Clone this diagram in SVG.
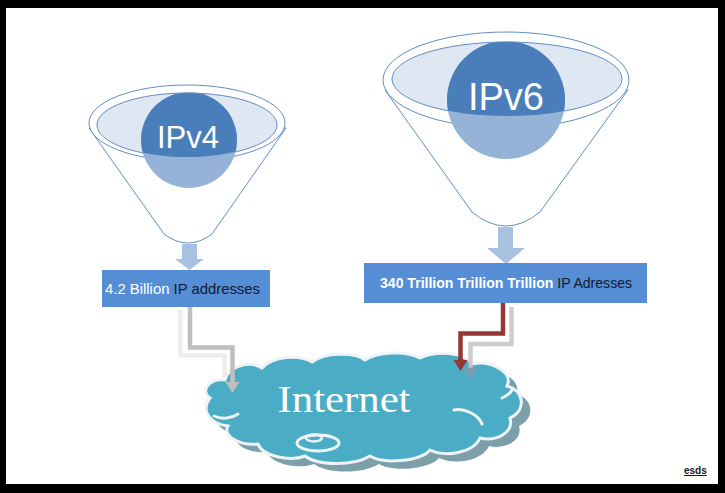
<svg xmlns="http://www.w3.org/2000/svg" width="725" height="493" viewBox="0 0 725 493">
<style>
.rim{fill:#fff;stroke:#4f81bd;stroke-width:0.9}
.inner{fill:#dfe7f3;stroke:#4f81bd;stroke-width:0.9}
.lt{fill:#95b3d7}
.dk{fill:#4a7ebb}
.blk{fill:#a9c1e0}
.box{fill:#558ed5}
.lbl{font-family:"Liberation Sans",Arial,sans-serif;font-size:14.5px;fill:#fff}
.dark{fill:#111a2b}
.big{font-family:"Liberation Sans",Arial,sans-serif;fill:#fff;text-anchor:middle}
.conn{fill:none;stroke-width:4.5;stroke-linejoin:miter}
.arc{fill:none;stroke:#eef3f5;stroke-width:3;stroke-linecap:round}
</style>
<defs>
<clipPath id="c4"><ellipse cx="187" cy="125" rx="90" ry="32"/></clipPath>
<clipPath id="c6"><ellipse cx="507" cy="79" rx="115" ry="37"/></clipPath>
<marker id="mg" viewBox="0 0 11 14" refX="0" refY="7" markerWidth="11" markerHeight="14" markerUnits="userSpaceOnUse" orient="auto"><path d="M0,0 L11,7 L0,14 Z" fill="#bfbfbf"/></marker>
<marker id="mg2" viewBox="0 0 11 14" refX="0" refY="7" markerWidth="11" markerHeight="14" markerUnits="userSpaceOnUse" orient="auto"><path d="M0,0 L11,7 L0,14 Z" fill="#8a9aa8" fill-opacity="0.8"/></marker>
<marker id="mr" viewBox="0 0 11 14" refX="0" refY="7" markerWidth="11" markerHeight="14" markerUnits="userSpaceOnUse" orient="auto"><path d="M0,0 L11,7 L0,14 Z" fill="#953735"/></marker>
<path id="cloud" d="M210,398 C200,392 208,378 225,380 C228,366 250,360 262,368 C272,356 300,354 312,362 C325,352 355,352 365,360 C378,352 405,350 420,358 C435,350 465,352 472,364 C490,360 514,372 507,386 C524,390 527,410 510,418 C514,432 497,442 480,438 C474,452 447,458 430,450 C420,462 382,464 370,456 C354,466 318,466 305,456 C290,462 262,456 258,444 C240,446 222,436 228,426 C210,424 200,410 210,398 Z"/>
</defs>
<rect x="0" y="0" width="725" height="493" fill="#000"/>
<rect x="6" y="8" width="712" height="476" fill="#fff"/>

<g id="ipv4-funnel">
<path class="rim" d="M89,128 L164,234 Q188,252 212,234 L286,128 Z"/>
<ellipse class="rim" cx="187" cy="123" rx="98" ry="38"/>
<ellipse class="inner" cx="187" cy="125" rx="90" ry="32"/>
<circle class="lt" cx="189" cy="140" r="48"/>
<circle class="dk" cx="189" cy="140" r="48" clip-path="url(#c4)"/>
<text class="big" x="188" y="148" font-size="31">IPv4</text>
<path class="blk" d="M182,244 H197 V259 H204 L189.5,270 L175,259 H182 Z"/>
</g>

<g id="ipv6-funnel">
<path class="rim" d="M385,90 L472,212 Q506,240 540,212 L628,90 Z"/>
<ellipse class="rim" cx="506" cy="80" rx="123" ry="48"/>
<ellipse class="inner" cx="507" cy="79" rx="115" ry="37"/>
<circle class="lt" cx="506" cy="100" r="59"/>
<circle class="dk" cx="506" cy="100" r="59" clip-path="url(#c6)"/>
<text class="big" x="506" y="110" font-size="38">IPv6</text>
<path class="blk" d="M498,227 H513 V248 H525 L506,264 L487,248 H498 Z"/>
</g>

<g id="ipv4-box">
<rect class="box" x="102" y="270" width="168" height="37"/>
<text class="lbl" x="105" y="293.5" textLength="155" lengthAdjust="spacingAndGlyphs">4.2 Billion <tspan class="dark">IP addresses</tspan></text>
</g>

<g id="ipv6-box">
<rect class="box" x="364" y="263" width="283" height="40"/>
<text class="lbl" x="380" y="287.5" font-size="14" textLength="252" lengthAdjust="spacingAndGlyphs"><tspan font-weight="bold">340 Trillion Trillion Trillion</tspan> <tspan class="dark">IP Adresses</tspan></text>
</g>

<g id="internet">
<use href="#cloud" transform="translate(9,8)" fill="#7d9fa9"/>
<use href="#cloud" fill="#4bacc6" stroke="#eef3f5" stroke-width="3"/>
<path class="arc" d="M214,416 C222,420 232,418 238,414"/>
<path class="arc" d="M454,410 C464,408 478,414 482,424"/>
<path class="arc" d="M502,398 C506,396 510,394 512,390"/>
<ellipse cx="318" cy="443" rx="21" ry="8" fill="none" stroke="#eef3f5" stroke-width="3"/>
<ellipse cx="314" cy="438" rx="8" ry="3.5" fill="none" stroke="#eef3f5" stroke-width="2.5"/>
<text x="344" y="412" font-family="'Liberation Serif','Times New Roman',serif" font-size="37" fill="#fff" text-anchor="middle" textLength="133" lengthAdjust="spacingAndGlyphs">Internet</text>
</g>

<g id="connectors">
<path class="conn" stroke="#ededed" d="M180.5,310 V355.5 H224.5 V378"/>
<path class="conn" stroke="#bfbfbf" d="M190,307 V347.5 H232.5 V382" marker-end="url(#mg)"/>
<path class="conn" stroke="#c4c4c4" stroke-opacity="0.85" d="M511.5,307 V344 H470.5 V368" marker-end="url(#mg2)"/>
<path class="conn" stroke="#953735" d="M503,303 V333.5 H460.5 V360" marker-end="url(#mr)"/>
</g>

<text x="684" y="474" font-family="'Liberation Sans',Arial,sans-serif" font-size="10" font-weight="bold" fill="#1a1a1a" text-decoration="underline">esds</text>
</svg>
